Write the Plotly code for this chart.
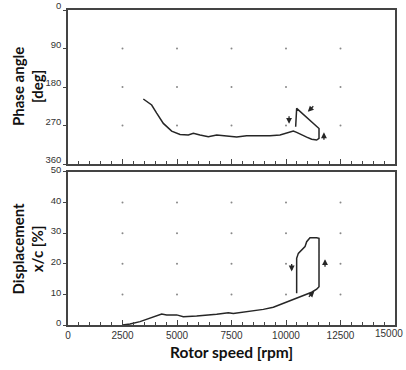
import plotly.graph_objects as go
from plotly.subplots import make_subplots

# Phase angle curve (rpm, deg)
phase_rpm = [3455, 3838, 4068, 4373, 4755, 5138, 5520, 5750, 6055, 6437, 6820, 7278, 7737,
             8196, 8655, 9266, 9725, 10107, 10336, 10489, 10719, 10948, 11177, 11407, 11514,
             11514, 10489, 10443]
phase_deg = [208, 222, 241, 265, 283, 291, 292, 288, 292, 296, 292, 294, 297,
             294, 294, 294, 292, 286, 283, 286, 292, 297, 302, 304, 300,
             277, 230, 273]

# Displacement curve (rpm, %)
disp_rpm = [2500, 2844, 3303, 3761, 4068, 4297, 4526, 4985, 5290, 5902, 6820, 7355, 7584,
            8196, 8960, 9419, 9878, 10336, 10795, 11177, 11407, 11514, 11514, 11407, 11100,
            10948, 10872, 10719, 10566, 10489, 10489]
disp_pct = [0.0, 0.3, 1.1, 2.2, 3.0, 3.6, 3.3, 3.3, 2.7, 2.9, 3.5, 4.0, 3.8,
            4.3, 5.1, 5.8, 7.1, 8.2, 9.5, 10.7, 11.7, 12.5, 28.3, 28.5, 28.5,
            27.2, 25.6, 24.5, 23.4, 21.8, 10.4]

x_ticks = [0, 2500, 5000, 7500, 10000, 12500, 15000]
x_labels = ["0", "2500", "5000", "7500", "10000", "12500", "15000"]
phase_ticks = [0, 90, 180, 270, 360]
disp_ticks = [0, 10, 20, 30, 40, 50]

# arrows: (x, y, dx_px, dy_px) head position and tail offset in pixels
phase_arrows = [(10140, 266, 0, -9), (11000, 238, 7, -7), (11740, 286, 0, 9)]
disp_arrows = [(10260, 17.5, 0, -9), (11790, 21.5, 0, 9), (11300, 11.0, -7, 7)]

fig = make_subplots(rows=2, cols=1, shared_xaxes=False, vertical_spacing=0.025)

ink = "#262626"
fig.add_trace(go.Scatter(x=phase_rpm, y=phase_deg, mode="lines",
                         line=dict(color=ink, width=1.5), showlegend=False), row=1, col=1)
fig.add_trace(go.Scatter(x=disp_rpm, y=disp_pct, mode="lines",
                         line=dict(color=ink, width=1.5), showlegend=False), row=2, col=1)

# grid dots
gx = x_ticks[1:-1]
gy1 = phase_ticks[1:-1]
gy2 = disp_ticks[1:-1]
fig.add_trace(go.Scatter(x=[a for a in gx for b in gy1], y=[b for a in gx for b in gy1],
                         mode="markers", marker=dict(size=2, color="#888"), showlegend=False),
              row=1, col=1)
fig.add_trace(go.Scatter(x=[a for a in gx for b in gy2], y=[b for a in gx for b in gy2],
                         mode="markers", marker=dict(size=2, color="#888"), showlegend=False),
              row=2, col=1)

tickfont = dict(family="Liberation Sans Narrow, Arial Narrow, Liberation Sans, sans-serif",
                size=10, color="#333")
ytickfont = dict(tickfont, size=9.5)
axline = dict(showline=True, linecolor="#444", linewidth=1.5, mirror=True,
              showgrid=False, zeroline=False, automargin=False)

for r in (1, 2):
    fig.update_xaxes(range=[0, 15000], tickvals=x_ticks, ticks="inside", ticklen=5,
                     tickcolor="#444", tickwidth=1, ticklabeloverflow="allow",
                     minor=dict(dtick=500, ticks="inside", ticklen=3, tickcolor="#444"),
                     tickfont=tickfont, **axline, row=r, col=1)
fig.update_xaxes(showticklabels=False, row=1, col=1)
# last label drawn as annotation so it stays inside the page
fig.update_xaxes(ticktext=x_labels[:-1] + [""], row=2, col=1)

fig.update_yaxes(range=[360, 0], tickvals=phase_ticks, ticks="outside", ticklen=3,
                 ticklabelshift=4,
                 tickcolor="#444", tickfont=ytickfont, **axline, row=1, col=1)
fig.update_yaxes(range=[0, 50], tickvals=disp_ticks, ticks="outside", ticklen=3,
                 ticklabelshift=-2,
                 tickcolor="#444", tickfont=ytickfont, **axline, row=2, col=1)

fig.update_layout(yaxis=dict(domain=[0.511, 1.0]), yaxis2=dict(domain=[0.0, 0.486]))

anns = []
for (x, y, dx, dy) in phase_arrows:
    anns.append(dict(x=x, y=y, xref="x", yref="y", ax=dx, ay=dy, text="", showarrow=True,
                     arrowhead=2, arrowsize=0.9, arrowwidth=1.3, arrowcolor=ink))
for (x, y, dx, dy) in disp_arrows:
    anns.append(dict(x=x, y=y, xref="x2", yref="y2", ax=dx, ay=dy, text="", showarrow=True,
                     arrowhead=2, arrowsize=0.9, arrowwidth=1.3, arrowcolor=ink))

anns.append(dict(x=x_ticks[-1], y=0, xref="x2", yref="paper", xanchor="right", yanchor="top",
                 xshift=10, yshift=-1, showarrow=False, text=x_labels[-1], font=tickfont))

titlefont = dict(family="Lato, Open Sans, sans-serif", size=15, color="#111")
anns.append(dict(x=0, y=(0.511 + 1.0) / 2, xref="paper", yref="paper", xanchor="center",
                 yanchor="middle", xshift=-40, textangle=-90, showarrow=False,
                 text="<b>Phase angle<br>[deg]</b>", font=titlefont))
anns.append(dict(x=0, y=0.486 / 2, xref="paper", yref="paper", xanchor="center",
                 yanchor="middle", xshift=-40, textangle=-90, showarrow=False,
                 text="<b>Displacement<br>x/c [%]</b>", font=titlefont))
anns.append(dict(x=0.5, y=0, xref="paper", yref="paper", xanchor="center", yanchor="middle",
                 yshift=-27, showarrow=False, text="<b>Rotor speed [rpm]</b>",
                 font=dict(family="Lato, Open Sans, sans-serif", size=15.5, color="#111")))

fig.update_layout(width=406, height=370, margin=dict(l=68, r=11, t=10, b=45),
                  paper_bgcolor="white", plot_bgcolor="white", annotations=anns)

fig.write_html("out.html")
